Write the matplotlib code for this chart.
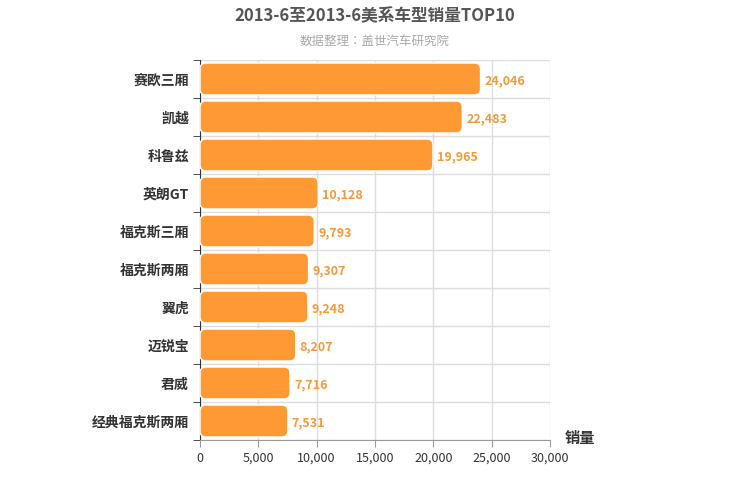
import matplotlib
matplotlib.use("Agg")
import matplotlib.pyplot as plt
from matplotlib import font_manager as fm
from matplotlib.patches import FancyBboxPatch

for f in fm.findSystemFonts():
    if "CJK" in f or "cjk" in f:
        try:
            fm.fontManager.addfont(f)
        except Exception:
            pass
names = sorted({f.name for f in fm.fontManager.ttflist if "CJK" in f.name})
pref = [n for n in ["Noto Sans CJK SC", "Noto Sans CJK JP", "Noto Sans CJK TC", "Noto Sans CJK KR"] if n in names] + names
plt.rcParams['font.family'] = 'sans-serif'
plt.rcParams['font.sans-serif'] = pref + ['DejaVu Sans']

categories = ["赛欧三厢", "凯越", "科鲁兹", "英朗GT", "福克斯三厢", "福克斯两厢", "翼虎", "迈锐宝", "君威", "经典福克斯两厢"]
values = [24046, 22483, 19965, 10128, 9793, 9307, 9248, 8207, 7716, 7531]
xticks = [0, 5000, 10000, 15000, 20000, 25000, 30000]

fig = plt.figure(figsize=(7.5, 5), dpi=100)
ax = fig.add_axes([200/750, 60/500, 350/750, 380/500])
n = len(categories)
ax.set_xlim(0, 30000)
ax.set_ylim(n, 0)

xu = 30000/350; yu = n/380
color = "#FF9933"
for i, (c, v) in enumerate(zip(categories, values)):
    h = 0.84
    y0 = i + (1-h)/2
    p = FancyBboxPatch((0, y0), v, h, boxstyle=f"round,pad=0,rounding_size={6*xu}",
                       mutation_aspect=yu/xu, fc=color, ec="white", lw=1, zorder=3)
    ax.add_patch(p)
    ax.text(v + 4*xu, i+0.55, f"{v:,}", va="center", ha="left", fontsize=9,
            color="#F59A3A", fontweight="bold", zorder=4)

ax.set_xticks(xticks)
ax.set_xticklabels([f"{t:,}" for t in xticks], fontsize=9, color="#333333")
ax.set_yticks([i+0.5 for i in range(n)])
ax.set_yticklabels(categories, fontsize=10, fontweight="bold", color="#333333")
ax.set_yticks(range(n+1), minor=True)
ax.tick_params(axis='y', which='major', length=0, pad=8)
ax.tick_params(axis='y', which='minor', length=5, color="#333333")
ax.tick_params(axis='x', length=5, color="#999999")
ax.grid(True, axis='x', color="#dddddd", lw=1, zorder=0)
ax.grid(True, axis='y', which='minor', color="#dddddd", lw=1, zorder=0)
for s in ["top", "right"]:
    ax.spines[s].set_visible(False)
ax.spines["left"].set_color("#333333")
ax.spines["bottom"].set_color("#999999")

fig.text(0.5, 1-16/500, "2013-6至2013-6美系车型销量TOP10", ha="center", va="center",
         fontsize=12, fontweight="bold", color="#555555")
fig.text(0.5, 1-41/500, "数据整理：盖世汽车研究院", ha="center", va="center",
         fontsize=9, color="#aaaaaa")
fig.text(580/750, 1-438/500, "销量", ha="center", va="center", fontsize=11,
         fontweight="bold", color="#333333")
fig.savefig("out.png")
